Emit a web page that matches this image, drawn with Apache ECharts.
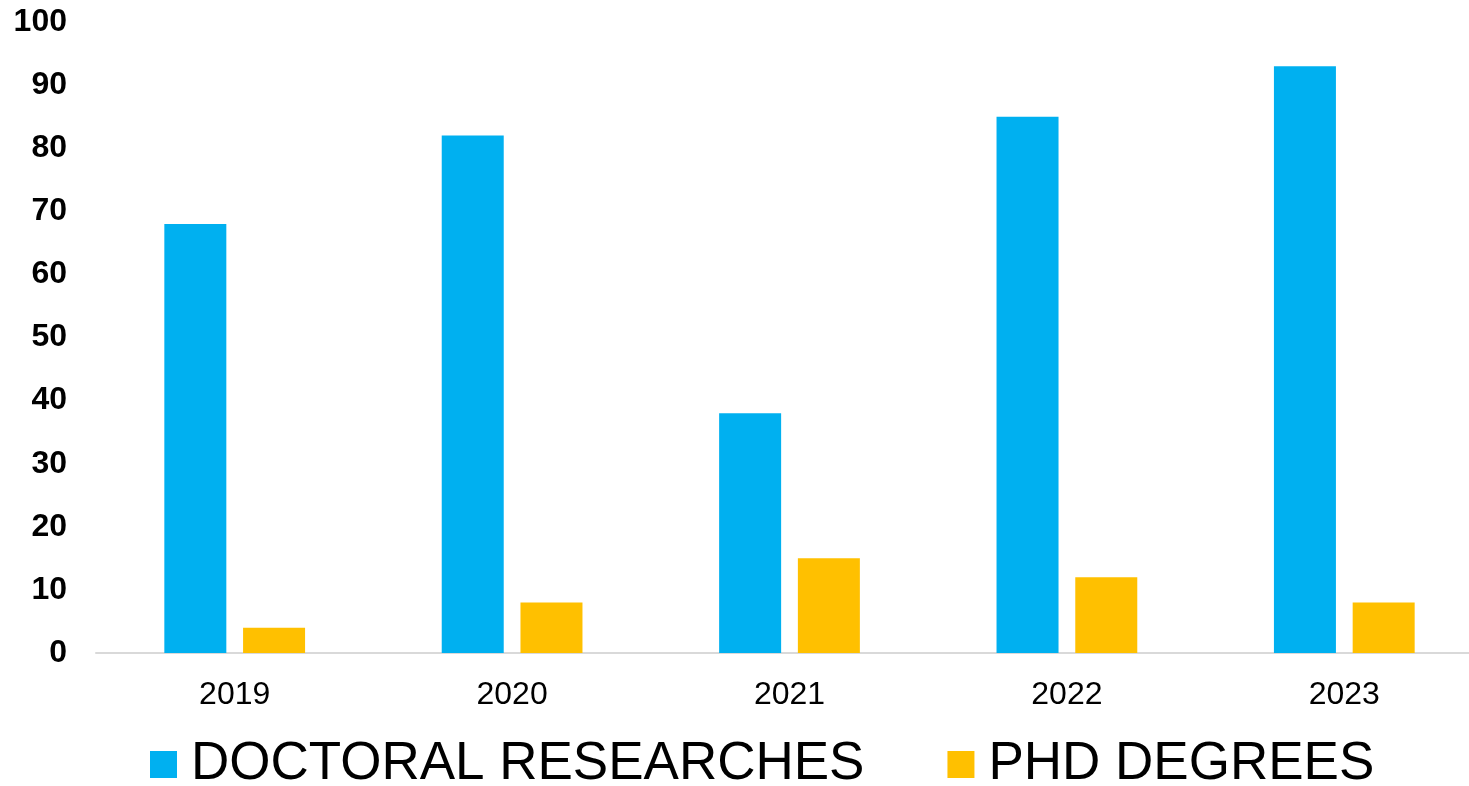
<!DOCTYPE html>
<html>
<head>
<meta charset="utf-8">
<script src="https://cdn.jsdelivr.net/npm/echarts@6/dist/echarts.min.js"></script>
<style>html,body{margin:0;padding:0;background:#fff;overflow:hidden;width:1469px;height:786px;}#c{width:1483px;height:786px;}</style>
</head>
<body>
<div id="c"></div>
<script>
const categories = ['2019', '2020', '2021', '2022', '2023'];
const doctoralResearches = [68, 82, 38, 85, 93];
const phdDegrees = [4, 8, 15, 12, 8];
const seriesNames = ['DOCTORAL RESEARCHES', 'PHD DEGREES'];

const chart = echarts.init(document.getElementById('c'));
chart.setOption({
  animation: false,
  backgroundColor: '#ffffff',
  textStyle: { fontFamily: 'Liberation Sans, Arial, sans-serif' },
  grid: { left: 96, top: 22, right: 0, height: 631, containLabel: false },
  legend: {
    left: 145,
    top: 733,
    itemWidth: 27,
    itemHeight: 27,
    itemGap: 83,
    icon: 'rect',
    textStyle: { fontSize: 53, color: '#000', padding: [0, 0, 0, 9], fontFamily: 'Liberation Sans, Arial, sans-serif' },
    data: seriesNames
  },
  xAxis: {
    type: 'category',
    data: categories,
    axisLine: { lineStyle: { color: '#D9D9D9', width: 2 } },
    axisTick: { show: false },
    axisLabel: { fontSize: 32, color: '#000', margin: 26 }
  },
  yAxis: {
    type: 'value',
    min: 0,
    max: 100,
    interval: 10,
    splitLine: { show: false },
    axisLine: { show: false },
    axisTick: { show: false },
    axisLabel: { fontSize: 32, fontWeight: 'bold', color: '#000', margin: 29 }
  },
  series: [
    { name: seriesNames[0], type: 'bar', data: doctoralResearches, barWidth: 62, barGap: '27%', itemStyle: { color: '#00B0F0' } },
    { name: seriesNames[1], type: 'bar', data: phdDegrees, barWidth: 62, barGap: '27%', itemStyle: { color: '#FFC000' } }
  ]
});
</script>
</body>
</html>
